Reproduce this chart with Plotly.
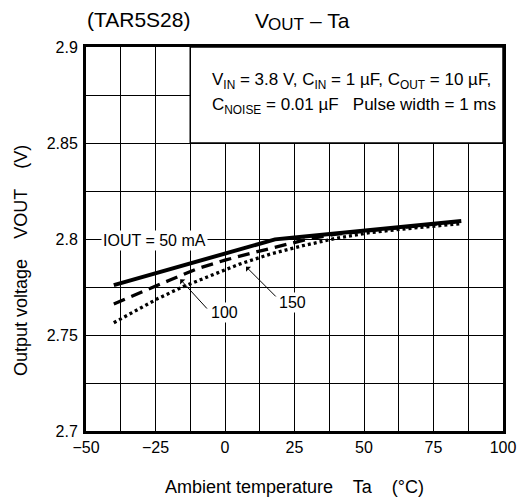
import plotly.graph_objects as go

# ---- data ----
ta_50 = [-40, -25, 0, 18, 25, 50, 75, 85]
v_50 = [2.776, 2.7822, 2.7924, 2.7998, 2.8008, 2.8044, 2.808, 2.8094]

ta_100 = [-40, -30, -20, -10, 0, 10, 20, 30, 40, 50, 75, 85]
v_100 = [2.7662, 2.7725, 2.7785, 2.7845, 2.789, 2.7928, 2.7965, 2.8, 2.8025, 2.804, 2.8078, 2.8092]

ta_150 = [-40, -33, -24, -15, -6, 5, 16, 28, 40, 52, 64, 75, 85]
v_150 = [2.7564, 2.7621, 2.7691, 2.7752, 2.7804, 2.7868, 2.792, 2.7965, 2.8004, 2.8033, 2.8052, 2.8068, 2.808]

x_ticks = [-50, -25, 0, 25, 50, 75, 100]
x_ticklabels = ["\u221250", "\u221225", "0", "25", "50", "75", "100"]
y_ticks = [2.7, 2.75, 2.8, 2.85, 2.9]
y_ticklabels = ["2.7", "2.75", "2.8", "2.85", "2.9"]

FONT = "Liberation Sans, Arial, Helvetica, sans-serif"

fig = go.Figure()
fig.add_trace(go.Scatter(x=ta_50, y=v_50, mode="lines",
                         line=dict(color="black", width=4), showlegend=False))
fig.add_trace(go.Scatter(x=ta_100, y=v_100, mode="lines",
                         line=dict(color="black", width=3.3, dash="12px,7px"), showlegend=False))
fig.add_trace(go.Scatter(x=ta_150, y=v_150, mode="lines",
                         line=dict(color="black", width=3.3, dash="3px,3px"), showlegend=False))

# condition box (hides the grid underneath)
fig.add_shape(type="rect", x0=-12.5, x1=100, y0=2.85, y1=2.9, xref="x", yref="y",
              fillcolor="white", line=dict(color="black", width=1.5), layer="between")

ann = []
# titles (VOUT subscript built from separate pieces)
ann.append(dict(text="(TAR5S28)", xref="paper", yref="paper", x=0.1253, y=1.0729,
                xanchor="center", yanchor="middle", showarrow=False, font=dict(size=21)))
ann.append(dict(text="V", xref="paper", yref="paper", x=0.3995, y=1.0703,
                xanchor="left", yanchor="middle", showarrow=False, font=dict(size=21)))
ann.append(dict(text="OUT", xref="paper", yref="paper", x=0.4326, y=1.0586,
                xanchor="left", yanchor="middle", showarrow=False, font=dict(size=17)))
ann.append(dict(text="\u2013 Ta", xref="paper", yref="paper", x=0.5319, y=1.0703,
                xanchor="left", yanchor="middle", showarrow=False, font=dict(size=21)))
# axis titles
ann.append(dict(text="Ambient temperature\u00a0\u00a0\u00a0 Ta\u00a0\u00a0\u00a0 (\u00b0C)",
                xref="paper", yref="paper", x=0.499, y=-0.1458,
                xanchor="center", yanchor="middle", showarrow=False, font=dict(size=18)))
ann.append(dict(text="Output voltage\u00a0\u00a0\u00a0 VOUT\u00a0\u00a0\u00a0 (V)",
                xref="paper", yref="paper", x=-0.156, y=0.4453, textangle=-90,
                xanchor="center", yanchor="middle", showarrow=False, font=dict(size=18)))
# conditions
ann.append(dict(text="V<sub>IN</sub> = 3.8 V, C<sub>IN</sub> = 1 \u00b5F, C<sub>OUT</sub> = 10 \u00b5F,",
                x=-5.43, y=2.8824, xanchor="left", yanchor="middle", showarrow=False,
                font=dict(size=17)))
ann.append(dict(text="C<sub>NOISE</sub> = 0.01 \u00b5F\u00a0\u00a0 Pulse width = 1 ms",
                x=-5.43, y=2.8694, xanchor="left", yanchor="middle", showarrow=False,
                font=dict(size=17)))
# curve labels
ann.append(dict(text="IOUT = 50 mA", x=-25.2, y=2.7991, xanchor="center", yanchor="middle",
                showarrow=False, bgcolor="white", borderpad=1, font=dict(size=16)))
ann.append(dict(text="100", x=-0.35, y=2.7615, xanchor="center", yanchor="middle",
                showarrow=False, bgcolor="white", borderpad=1, font=dict(size=16)))
ann.append(dict(text="150", x=24.1, y=2.7667, xanchor="center", yanchor="middle",
                showarrow=False, bgcolor="white", borderpad=1, font=dict(size=16)))
# arrows
ann.append(dict(text="", x=-16.1, y=2.779, ax=-6.0, ay=2.763, axref="x", ayref="y",
                showarrow=True, arrowhead=1, arrowsize=1.2, arrowwidth=1, arrowcolor="black"))
ann.append(dict(text="", x=7.55, y=2.7856, ax=18.8, ay=2.7693, axref="x", ayref="y",
                showarrow=True, arrowhead=1, arrowsize=1.2, arrowwidth=1, arrowcolor="black"))

# The page body keeps an 8px margin, so the figure is sized/margined to compensate.
fig.update_layout(
    width=520, height=493,
    margin=dict(l=78, r=19, t=39, b=70),
    paper_bgcolor="white", plot_bgcolor="white",
    font=dict(family=FONT, color="black", size=16),
    annotations=ann,
)
fig.update_xaxes(range=[-50, 100], tickvals=x_ticks, ticktext=x_ticklabels,
                 showgrid=True, gridcolor="black", gridwidth=1,
                 minor=dict(dtick=12.5, tick0=-50, showgrid=True, gridcolor="black", gridwidth=1),
                 showline=True, linecolor="black", linewidth=3, mirror=True,
                 ticks="", zeroline=False, tickfont=dict(size=16))
fig.update_yaxes(range=[2.7, 2.9], tickvals=y_ticks, ticktext=y_ticklabels,
                 showgrid=True, gridcolor="black", gridwidth=1,
                 minor=dict(dtick=0.025, tick0=2.7, showgrid=True, gridcolor="black", gridwidth=1),
                 showline=True, linecolor="black", linewidth=3, mirror=True,
                 ticks="", zeroline=False, tickfont=dict(size=16), ticklabelstandoff=2)

fig.write_html("out.html")
